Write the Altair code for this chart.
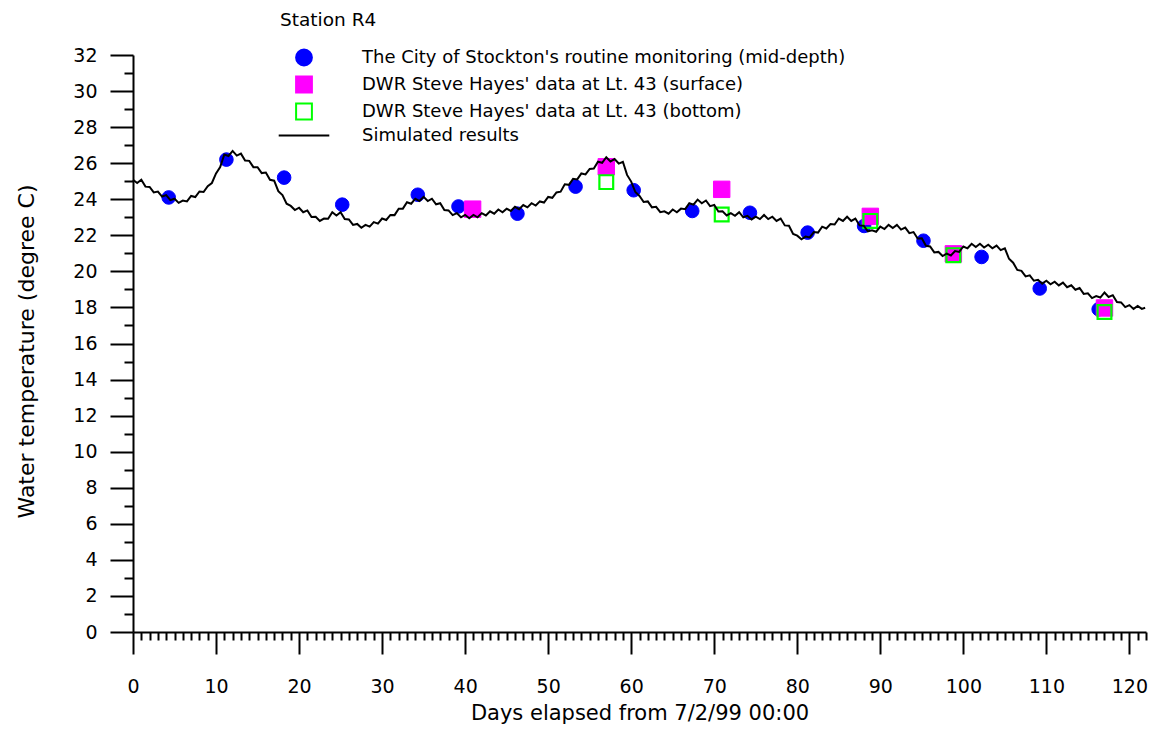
import altair as alt
import pandas as pd

SERIES = [
    "The City of Stockton's routine monitoring (mid-depth)",
    "DWR Steve Hayes' data at Lt. 43 (surface)",
    "DWR Steve Hayes' data at Lt. 43 (bottom)",
    "Simulated results",
]

MID_DAY = [4.3, 11.25, 18.2, 25.2, 34.3, 39.2, 46.3, 53.3, 60.3, 67.35, 74.3, 81.25, 88.05, 95.2, 102.2, 109.2, 116.3]
MID_TEMP = [24.1, 26.2, 25.2, 23.7, 24.25, 23.6, 23.2, 24.7, 24.5, 23.35, 23.25, 22.15, 22.52, 21.7, 20.8, 19.05, 17.9]

SURF_DAY = [40.9, 57.0, 70.9, 88.8, 98.8, 117.0]
SURF_TEMP = [23.45, 25.8, 24.55, 23.05, 20.97, 17.97]

BOT_DAY = [57.0, 70.9, 88.8, 98.8, 117.0]
BOT_TEMP = [24.95, 23.15, 22.8, 20.9, 17.75]

SIM_STEP = 0.5
SIM_TEMP = [
    25.08, 24.90, 25.08, 24.70, 24.68, 24.38, 24.43, 24.15, 24.23, 23.95,
    24.03, 23.80, 23.93, 23.88, 24.18, 24.12, 24.43, 24.40, 24.73, 24.90,
    25.43, 25.78, 26.48, 26.40, 26.68, 26.42, 26.53, 26.15, 26.13, 25.78,
    25.78, 25.45, 25.48, 25.08, 25.03, 24.45, 24.23, 23.75, 23.63, 23.40,
    23.53, 23.28, 23.38, 23.02, 23.03, 22.80, 22.93, 22.92, 23.28, 23.10,
    23.28, 22.90, 22.88, 22.58, 22.63, 22.42, 22.58, 22.48, 22.73, 22.65,
    22.93, 22.85, 23.13, 23.12, 23.48, 23.48, 23.83, 23.75, 24.03, 23.90,
    24.13, 23.90, 24.03, 23.72, 23.78, 23.40, 23.38, 23.12, 23.23, 23.00,
    23.13, 22.95, 23.13, 23.00, 23.23, 23.10, 23.33, 23.20, 23.43, 23.28,
    23.48, 23.35, 23.58, 23.45, 23.68, 23.55, 23.78, 23.65, 23.88, 23.82,
    24.13, 24.08, 24.38, 24.42, 24.83, 24.80, 25.13, 25.10, 25.43, 25.38,
    25.68, 25.70, 26.08, 26.02, 26.33, 26.10, 26.23, 25.98, 26.08, 25.35,
    24.98, 24.40, 24.18, 23.85, 23.88, 23.55, 23.58, 23.28, 23.33, 23.20,
    23.43, 23.28, 23.48, 23.45, 23.78, 23.70, 23.98, 23.78, 23.93, 23.62,
    23.68, 23.32, 23.33, 23.10, 23.23, 23.08, 23.28, 23.00, 23.08, 22.88,
    23.03, 22.90, 23.13, 22.90, 23.03, 22.80, 22.93, 22.55, 22.53, 22.08,
    21.98, 21.78, 21.93, 21.88, 22.18, 22.15, 22.48, 22.38, 22.63, 22.60,
    22.93, 22.80, 23.03, 22.80, 22.93, 22.55, 22.53, 22.22, 22.28, 22.20,
    22.48, 22.35, 22.58, 22.40, 22.58, 22.32, 22.43, 22.12, 22.18, 21.82,
    21.83, 21.42, 21.38, 21.05, 21.08, 20.85, 20.98, 20.88, 21.13, 21.08,
    21.38, 21.28, 21.53, 21.35, 21.53, 21.32, 21.48, 21.28, 21.43, 21.18,
    21.28, 20.70, 20.48, 20.08, 20.03, 19.72, 19.78, 19.48, 19.53, 19.32,
    19.48, 19.28, 19.43, 19.22, 19.38, 19.12, 19.23, 18.98, 19.08, 18.75,
    18.78, 18.52, 18.63, 18.55, 18.83, 18.58, 18.68, 18.30, 18.28, 18.02,
    18.13, 17.92, 18.08, 17.92,
]
SIM_END_DAY = 121.9
SIM_END_TEMP = 17.98

X_TICKS = list(range(0, 123))
Y_TICKS = list(range(0, 33))

FONT = "DejaVu Sans"

mid = pd.DataFrame({"day": MID_DAY, "temp": MID_TEMP, "series": SERIES[0]})
surf = pd.DataFrame({"day": SURF_DAY, "temp": SURF_TEMP, "series": SERIES[1]})
bot = pd.DataFrame({"day": BOT_DAY, "temp": BOT_TEMP, "series": SERIES[2]})
sim_days = [i * SIM_STEP for i in range(len(SIM_TEMP))] + [SIM_END_DAY]
sim = pd.DataFrame({"day": sim_days, "temp": SIM_TEMP + [SIM_END_TEMP], "series": SERIES[3]})

x_enc = alt.X(
    "day:Q",
    scale=alt.Scale(domain=[0, 122], nice=False, zero=False),
    axis=alt.Axis(
        values=X_TICKS,
        labelExpr="datum.value % 10 === 0 ? datum.label : ''",
        tickSize={"condition": {"test": "datum.value % 10 === 0", "value": 22}, "value": 8},
        labelPadding=23,
        labelFont=FONT, labelFontSize=19, labelColor="black",
        title="Days elapsed from 7/2/99 00:00",
        titleFont=FONT, titleFontSize=21, titleFontWeight="normal", titleColor="black",
        titleBaseline="alphabetic", titleY=87,
        grid=False, domainColor="black", domainWidth=2, tickColor="black", tickWidth=2,
        labelFlush=False, labelOverlap=False,
    ),
)
y_enc = alt.Y(
    "temp:Q",
    scale=alt.Scale(domain=[0, 32], nice=False, zero=False),
    axis=alt.Axis(
        values=Y_TICKS,
        labelExpr="datum.value % 2 === 0 ? datum.label : ''",
        tickSize={"condition": {"test": "datum.value % 2 === 0", "value": 23}, "value": 9},
        labelPadding=13,
        labelFont=FONT, labelFontSize=19, labelColor="black",
        title="Water temperature (degree C)",
        titleFont=FONT, titleFontSize=22, titleFontWeight="normal", titleColor="black",
        titleBaseline="alphabetic", titleX=-100, titleY=296, titleAngle=-90,
        grid=False, domainColor="black", domainWidth=2, tickColor="black", tickWidth=2,
        labelFlush=False, labelOverlap=False,
    ),
)

legend = alt.Legend(
    orient="none", legendX=147, legendY=-44, padding=0,
    title="Station R4", titleFont=FONT, titleFontSize=18.5, titleFontWeight="normal",
    titleColor="black", titlePadding=19,
    labelFont=FONT, labelFontSize=18, labelColor="black", labelLimit=800, labelOffset=49,
    symbolSize=250, symbolStrokeWidth=2, symbolOffset=15, rowPadding=3,
)

fill_enc = alt.Fill("series:N", scale=alt.Scale(domain=SERIES, range=["#0000ff", "#ff00ff", "transparent", "transparent"]), legend=legend)
stroke_enc = alt.Stroke("series:N", scale=alt.Scale(domain=SERIES, range=["#0000ff", "#ff00ff", "#00ff00", "#000000"]), legend=legend)
shape_enc = alt.Shape("series:N", scale=alt.Scale(domain=SERIES, range=["circle", "square", "square", "M-3.2,0H3.2"]), legend=legend)

circles = alt.Chart(mid).mark_point(size=185, opacity=1, strokeWidth=1).encode(
    x=x_enc, y=y_enc, fill=fill_enc, stroke=stroke_enc, shape=shape_enc)
surf_pts = alt.Chart(surf).mark_point(size=270, opacity=1, strokeWidth=1).encode(
    x=x_enc, y=y_enc, fill=fill_enc, stroke=stroke_enc, shape=shape_enc)
bot_pts = alt.Chart(bot).mark_point(size=190, opacity=1, strokeWidth=2.2).encode(
    x=x_enc, y=y_enc, fill=fill_enc, stroke=stroke_enc, shape=shape_enc)
line = alt.Chart(sim).mark_line(strokeWidth=2, opacity=1).encode(
    x=x_enc, y=y_enc, stroke=stroke_enc)

chart = alt.layer(circles, surf_pts, bot_pts, line).properties(
    width=1013, height=577,
    autosize=alt.AutoSizeParams(type="none"),
    padding={"left": 133, "top": 55, "right": 13, "bottom": 97},
    background="white",
).configure_view(stroke=None)

chart.save("out.html", embed_options={"renderer": "svg", "actions": False})
